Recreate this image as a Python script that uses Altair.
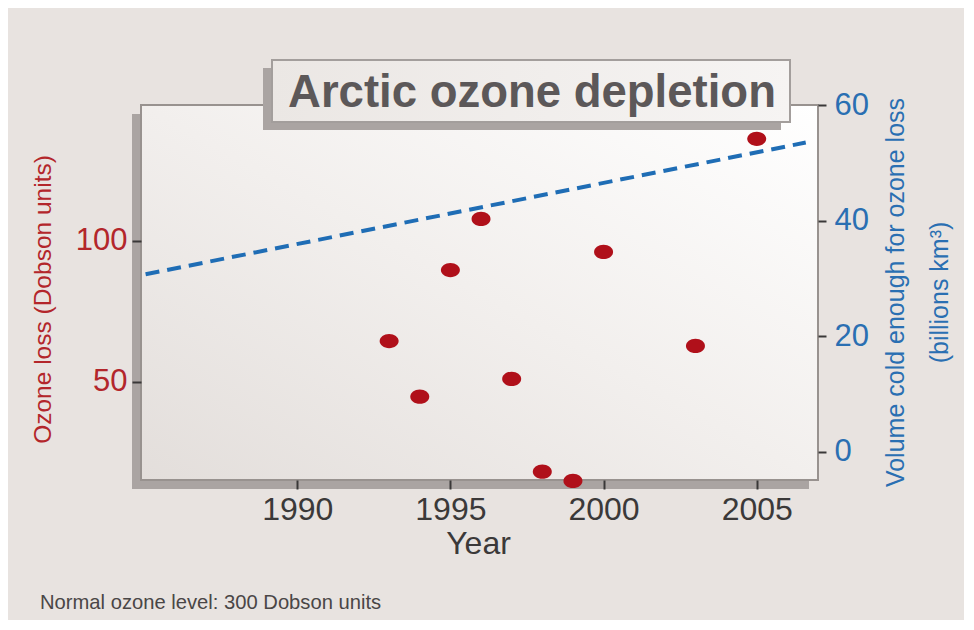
import altair as alt
import pandas as pd

# ---- data ----
years = [1993, 1994, 1995, 1996, 1997, 1998, 1999, 2000, 2003, 2005]
ozone_loss = [64.5, 44.8, 89.7, 107.8, 51.1, 18.2, 14.9, 96.1, 62.8, 136.2]
trend_years = [1985.05, 2006.6]
trend_volume = [30.7, 53.5]
x_ticks = [1990, 1995, 2000, 2005]
left_ticks = [50, 100]
right_ticks = [0, 20, 40, 60]

title_text = "Arctic ozone depletion"
left_title = "Ozone loss (Dobson units)"
right_title = ["Volume cold enough for ozone loss", "(billions km³)"]
x_title = "Year"
footnote = "Normal ozone level: 300 Dobson units"

# ---- styling ----
W, H = 677, 375
FONT = "Liberation Sans"
RED = "#b3262b"
BLUE = "#2a6fb2"
DARK = "#3b3939"
TICK = "#3a3838"

pts = pd.DataFrame({"Year": years, "Ozone": ozone_loss})
trend = pd.DataFrame({"Year": trend_years, "Volume": trend_volume})
one = pd.DataFrame({"k": [0]})

xscale = alt.Scale(domain=[1984.9, 2007.0], nice=False, zero=False)
xaxis = alt.Axis(
    values=x_ticks, format="d", title=x_title, orient="bottom",
    domain=False, grid=False, tickSize=9, tickWidth=2, tickColor=TICK,
    labelFont=FONT, labelFontSize=32, labelColor=DARK, labelPadding=5,
    titleFont=FONT, titleFontSize=32, titleFontWeight="normal", titleColor=DARK,
    titleX=337, titleY=73, titleBaseline="alphabetic", titleAlign="center",
    zindex=1,
)

base = alt.Chart(one)

shadow = base.mark_rect(color="#aaa4a2").encode(
    x=alt.value(-9), x2=alt.value(W - 9), y=alt.value(9), y2=alt.value(H + 9)
)
panel = base.mark_rect(
    fill=alt.Gradient(
        gradient="linear", x1=0, y1=1, x2=1, y2=0,
        stops=[
            alt.GradientStop(color="#e3dedb", offset=0),
            alt.GradientStop(color="#f2efed", offset=0.5),
            alt.GradientStop(color="#ffffff", offset=1),
        ],
    )
).encode(x=alt.value(0), x2=alt.value(W), y=alt.value(0), y2=alt.value(H))
frame = base.mark_rect(fillOpacity=0, stroke="#98928f", strokeWidth=2).encode(
    x=alt.value(0), x2=alt.value(W), y=alt.value(0), y2=alt.value(H)
)

line = alt.Chart(trend).mark_line(
    color="#1f6db5", strokeWidth=4, strokeDash=[14, 8], strokeCap="butt"
).encode(
    x=alt.X("Year:Q", scale=xscale, axis=xaxis),
    y=alt.Y(
        "Volume:Q",
        scale=alt.Scale(domain=[-4.9, 60], nice=False, zero=False),
        axis=alt.Axis(
            orient="right", values=right_ticks, title=right_title,
            domain=False, grid=False, tickSize=8, tickWidth=2, tickColor=TICK,
            labelFont=FONT, labelFontSize=31, labelColor=BLUE, labelPadding=8,
            titleFont=FONT, titleFontSize=25, titleFontWeight="normal",
            titleColor=BLUE, titleAngle=270, titleX=85, titleY=187,
            titleBaseline="alphabetic", titleAlign="center", titleLineHeight=44,
            zindex=1,
        ),
    ),
)

ellipse = "M -1 0 A 1 0.75 0 1 0 1 0 A 1 0.75 0 1 0 -1 0 Z"
points = alt.Chart(pts).mark_point(
    shape=ellipse, filled=True, size=361, color="#b0101a", opacity=1
).encode(
    x=alt.X("Year:Q", scale=xscale, axis=xaxis),
    y=alt.Y(
        "Ozone:Q",
        scale=alt.Scale(domain=[15.25, 148.2], nice=False, zero=False),
        axis=alt.Axis(
            orient="left", values=left_ticks, title=left_title,
            domain=False, grid=False, tickSize=9, tickWidth=2, tickColor=TICK,
            labelFont=FONT, labelFontSize=31, labelColor=RED, labelPadding=5,
            titleFont=FONT, titleFontSize=24.5, titleFontWeight="normal",
            titleColor=RED, titleAngle=270, titleX=-91, titleY=194,
            titleBaseline="alphabetic", titleAlign="center",
            zindex=1,
        ),
    ),
)

box_shadow = base.mark_rect(color="#aaa4a2").encode(
    x=alt.value(122), x2=alt.value(640), y=alt.value(-37), y2=alt.value(25)
)
box = base.mark_rect(
    fill=alt.Gradient(
        gradient="linear", x1=0, y1=0, x2=1, y2=0,
        stops=[
            alt.GradientStop(color="#ebe7e4", offset=0),
            alt.GradientStop(color="#f6f4f3", offset=1),
        ],
    ),
    stroke="#a39e9c", strokeWidth=2,
).encode(x=alt.value(131), x2=alt.value(649), y=alt.value(-45), y2=alt.value(17))
title = base.mark_text(
    text=title_text, font=FONT, fontSize=45.5, fontWeight="bold",
    color="#5c5859", align="center", baseline="alphabetic",
).encode(x=alt.value(391), y=alt.value(2))
foot = base.mark_text(
    text=footnote, font=FONT, fontSize=20.2, color="#4a4646",
    align="left", baseline="alphabetic",
).encode(x=alt.value(-101), y=alt.value(504))

chart = alt.layer(
    shadow, panel, frame, line, points, box_shadow, box, title, foot
).resolve_scale(y="independent").properties(
    width=W, height=H,
    background="#e8e3e0",
    padding={"left": 133, "top": 97, "right": 146, "bottom": 140},
    autosize=alt.AutoSizeParams(type="none"),
).configure_view(strokeWidth=0)

chart.save("out.html", embed_options={"renderer": "svg", "actions": False})
